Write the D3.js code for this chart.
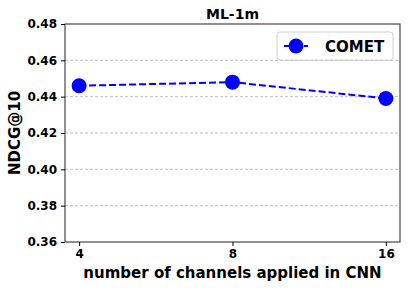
<!DOCTYPE html>
<html>
<head>
<meta charset="utf-8">
<script src="https://cdn.jsdelivr.net/npm/d3@7"></script>
<style>
  body { margin: 0; background: #fff; }
  text { font-family: "DejaVu Sans", sans-serif; font-weight: bold; }
</style>
</head>
<body>
<svg id="chart" width="410" height="288"></svg>
<script>
const channels = ['4', '8', '16'];
const ndcg = [0.446, 0.448, 0.439];
const yTicks = [0.36, 0.38, 0.40, 0.42, 0.44, 0.46, 0.48];
const seriesName = 'COMET';

const margin = { top: 24, right: 10, bottom: 46, left: 65 };
const width = 410, height = 288;
const svg = d3.select('#chart');

const x = d3.scalePoint()
  .domain(channels)
  .range([margin.left, width - margin.right])
  .padding(0.092);

const y = d3.scaleLinear()
  .domain([0.36, 0.48])
  .range([height - margin.bottom, margin.top]);

// grid
svg.append('g')
  .selectAll('line')
  .data(yTicks.slice(1, -1))
  .join('line')
  .attr('x1', margin.left)
  .attr('x2', width - margin.right)
  .attr('y1', d => y(d))
  .attr('y2', d => y(d))
  .attr('stroke', '#b0b0b0')
  .attr('stroke-width', 0.8)
  .attr('stroke-dasharray', '3,2');

// frame
svg.append('rect')
  .attr('x', margin.left)
  .attr('y', margin.top)
  .attr('width', width - margin.right - margin.left)
  .attr('height', height - margin.bottom - margin.top)
  .attr('fill', 'none')
  .attr('stroke', '#222')
  .attr('stroke-width', 1);

const xAxis = svg.append('g')
  .attr('transform', `translate(0,${height - margin.bottom})`)
  .call(d3.axisBottom(x).tickSize(4).tickPadding(3));
xAxis.select('.domain').remove();
xAxis.selectAll('text').attr('font-size', 12).attr('fill', '#000');

const yAxis = svg.append('g')
  .attr('transform', `translate(${margin.left},0)`)
  .call(d3.axisLeft(y).tickValues(yTicks).tickFormat(d3.format('.2f')).tickSize(4).tickPadding(4));
yAxis.select('.domain').remove();
yAxis.selectAll('text').attr('font-size', 12).attr('fill', '#000');

// line
const line = d3.line()
  .x((d, i) => x(channels[i]))
  .y(d => y(d));

svg.append('path')
  .datum(ndcg)
  .attr('d', line)
  .attr('fill', 'none')
  .attr('stroke', '#0000ff')
  .attr('stroke-width', 2)
  .attr('stroke-dasharray', '7,3');

svg.append('g')
  .selectAll('circle')
  .data(ndcg)
  .join('circle')
  .attr('cx', (d, i) => x(channels[i]))
  .attr('cy', d => y(d))
  .attr('r', 7.5)
  .attr('fill', '#0000ff');

// title and labels
svg.append('text')
  .attr('x', (margin.left + width - margin.right) / 2)
  .attr('y', 19)
  .attr('text-anchor', 'middle')
  .attr('font-size', 14)
  .text('ML-1m');

svg.append('text')
  .attr('x', (margin.left + width - margin.right) / 2)
  .attr('y', 278)
  .attr('text-anchor', 'middle')
  .attr('font-size', 15)
  .text('number of channels applied in CNN');

svg.append('text')
  .attr('transform', `translate(20,${(margin.top + height - margin.bottom) / 2}) rotate(-90)`)
  .attr('text-anchor', 'middle')
  .attr('font-size', 15)
  .text('NDCG@10');

// legend
const lg = svg.append('g').attr('transform', 'translate(277,32)');
lg.append('rect')
  .attr('width', 116).attr('height', 28).attr('rx', 3)
  .attr('fill', '#fff').attr('fill-opacity', 0.8)
  .attr('stroke', '#d0d0d0');
lg.append('line')
  .attr('x1', 7).attr('x2', 31).attr('y1', 14).attr('y2', 14)
  .attr('stroke', '#0000ff').attr('stroke-width', 2)
  .attr('stroke-dasharray', '7,3');
lg.append('circle').attr('cx', 19).attr('cy', 14).attr('r', 7.5).attr('fill', '#0000ff');
lg.append('text')
  .attr('x', 48).attr('y', 20)
  .attr('font-size', 15)
  .text(seriesName);
</script>
</body>
</html>
